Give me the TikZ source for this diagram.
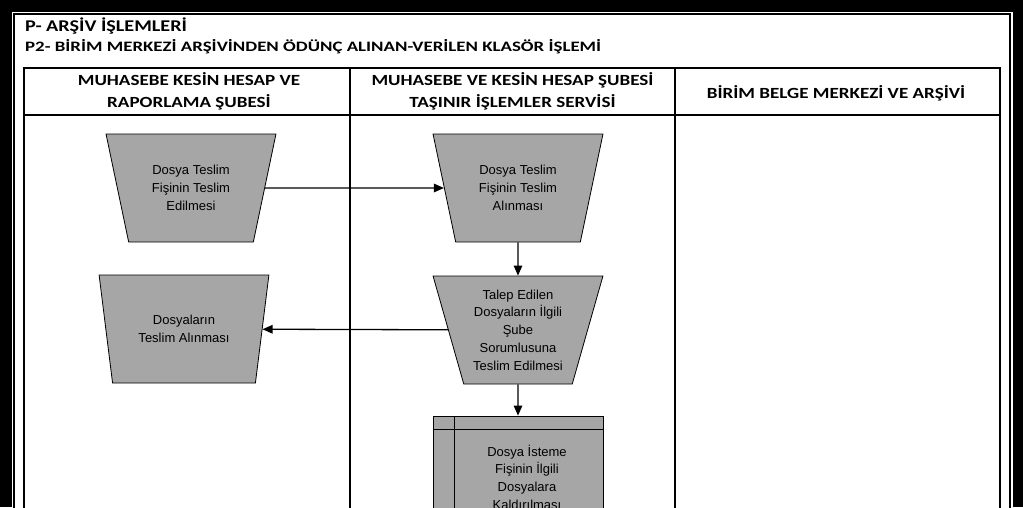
\documentclass[tikz,border=0pt]{standalone}
\usepackage{fontspec}
\setmainfont{Carlito}
\newfontfamily\headfont[FakeStretch=1.23]{Carlito}
\newfontfamily\subfont[FakeStretch=1.31]{Carlito}
\newfontfamily\boxfont{Liberation Sans}
\usetikzlibrary{shapes.geometric,arrows.meta}
\definecolor{boxgray}{HTML}{A6A6A6}

\begin{document}
\begin{tikzpicture}[x=1pt,y=-1pt,
    proc/.style={draw,fill=boxgray,line width=0.8pt,trapezium,
      trapezium left angle=107.5,trapezium right angle=107.5,
      trapezium stretches=true,minimum width=170pt,minimum height=108pt,
      inner sep=0pt,align=center,font=\boxfont\fontsize{13}{17.7}\selectfont},
    store/.style={draw,fill=boxgray,line width=0.8pt,rectangle,
      minimum width=170pt,minimum height=110pt},
    txt/.style={align=center,font=\boxfont\fontsize{13}{17.7}\selectfont},
    head/.style={align=center,font=\headfont\bfseries\fontsize{15.5}{21.7}\selectfont},
    flow/.style={-{Triangle[length=10pt,width=8.5pt]},line width=1.3pt}]
  \useasboundingbox (0,0) rectangle (1023,507);

  % frame and lanes
  \fill[black] (0,0) rectangle (1023,507);
  \fill[white] (11.5,12) rectangle (1012.5,530);
  \draw[line width=1.2pt] (14,14) rectangle (1010,530);
  \draw[line width=1.2pt] (24,68) rectangle (1000,530);
  \draw[line width=1.2pt] (24,115) -- (1000,115);
  \draw[line width=1.2pt] (350,68) -- (350,530);
  \draw[line width=1.2pt] (675,68) -- (675,530);

  \node[anchor=base west,inner sep=0pt,font=\headfont\bfseries\fontsize{16.4}{20}\selectfont] (title) at (25,31.5) {P- ARŞİV İŞLEMLERİ};
  \node[anchor=base west,inner sep=0pt,font=\subfont\bfseries\fontsize{14.4}{17}\selectfont] (subtitle) at (25,51.5) {P2- BİRİM MERKEZİ ARŞİVİNDEN ÖDÜNÇ ALINAN-VERİLEN KLASÖR İŞLEMİ};

  \node[head] (laneA) at (189,91.5) {MUHASEBE KESİN HESAP VE\\RAPORLAMA ŞUBESİ};
  \node[head] (laneB) at (512.5,91.5) {MUHASEBE VE KESİN HESAP ŞUBESİ\\TAŞINIR İŞLEMLER SERVİSİ};
  \node[head] (laneC) at (836,93) {BİRİM BELGE MERKEZİ VE ARŞİVİ};

  % steps
  \node[proc] (teslim) at (191,188) {Dosya Teslim\\Fişinin Teslim\\Edilmesi};
  \node[proc] (alinma) at (184,329) {Dosyaların\\Teslim Alınması};
  \node[proc] (fisalma) at (518,188) {Dosya Teslim\\Fişinin Teslim\\Alınması};
  \node[proc] (sube) at (518,330) {Talep Edilen\\Dosyaların İlgili\\Şube\\Sorumlusuna\\Teslim Edilmesi};
  \node[store,path picture={
      \draw[line width=0.8pt] ([xshift=21pt]path picture bounding box.north west) -- ([xshift=21pt]path picture bounding box.south west);
      \draw[line width=0.8pt] ([yshift=-13pt]path picture bounding box.north west) -- ([yshift=-13pt]path picture bounding box.north east);
    }] (arsiv) at (518,471) {};
  \node[txt] (arsivtxt) at (527,477) {Dosya İsteme\\Fişinin İlgili\\Dosyalara\\Kaldırılması};

  \draw[flow] (teslim) -- (fisalma);
  \draw[flow] (fisalma) -- (sube);
  \draw[flow] (sube) -- (alinma);
  \draw[flow] (sube) -- (arsiv);
\end{tikzpicture}
\end{document}
